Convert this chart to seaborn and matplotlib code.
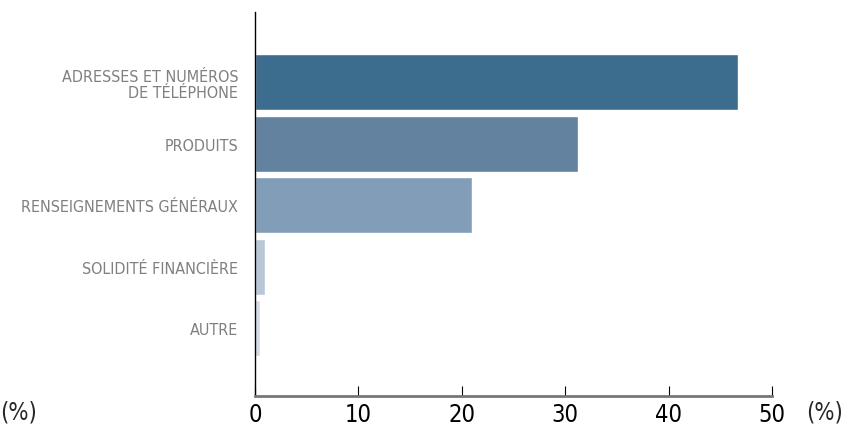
import pandas as pd
import seaborn as sns
import matplotlib.pyplot as plt

categories = ['ADRESSES ET NUMÉROS\nDE TÉLÉPHONE', 'PRODUITS', 'RENSEIGNEMENTS GÉNÉRAUX',
              'SOLIDITÉ FINANCIÈRE', 'AUTRE']
values = [46.7, 31.2, 21.0, 1.0, 0.5]
colors = ['#3d6d8e', '#62829f', '#829db7', '#b8c6d7', '#d1dce6']
xticks = [0, 10, 20, 30, 40, 50]

df = pd.DataFrame({'cat': categories, 'val': values})

sns.set_style('white')
plt.rcParams['font.family'] = ['DejaVu Sans']
plt.rcParams['font.stretch'] = 'condensed'

fig = plt.figure(figsize=(8.46, 4.27), dpi=100)
ax = fig.add_axes([255 / 846, 1 - 397 / 427, 517 / 846, 384 / 427])
sns.barplot(data=df, x='val', y='cat', hue='cat', palette=colors, legend=False,
            width=0.91, saturation=1, ax=ax)

ax.set_xlim(0, 50)
ax.set_ylim(5.1, -1.14)
ax.set_xticks(xticks)
ax.set_xticklabels([str(t) for t in xticks], fontsize=17, color='black')
ax.tick_params(axis='x', bottom=True, direction='in', length=7, width=0.8,
               color='black', pad=4)
ax.tick_params(axis='y', left=False, length=0, pad=12, labelsize=11.5, labelcolor='#808080')
for lbl in ax.get_yticklabels():
    lbl.set_linespacing(1.1)
ax.set_xlabel('')
ax.set_ylabel('')

sns.despine(ax=ax, top=True, right=True)
ax.spines['left'].set_color('black')
ax.spines['left'].set_linewidth(1)
ax.spines['bottom'].set_color('#777777')
ax.spines['bottom'].set_linewidth(2)

fig.text(0.0, 1 - 413 / 427, '(%)', fontsize=17, va='center', ha='left')
fig.text(806 / 846, 1 - 413 / 427, '(%)', fontsize=17, va='center', ha='left')

fig.savefig('out.png', dpi=100)
